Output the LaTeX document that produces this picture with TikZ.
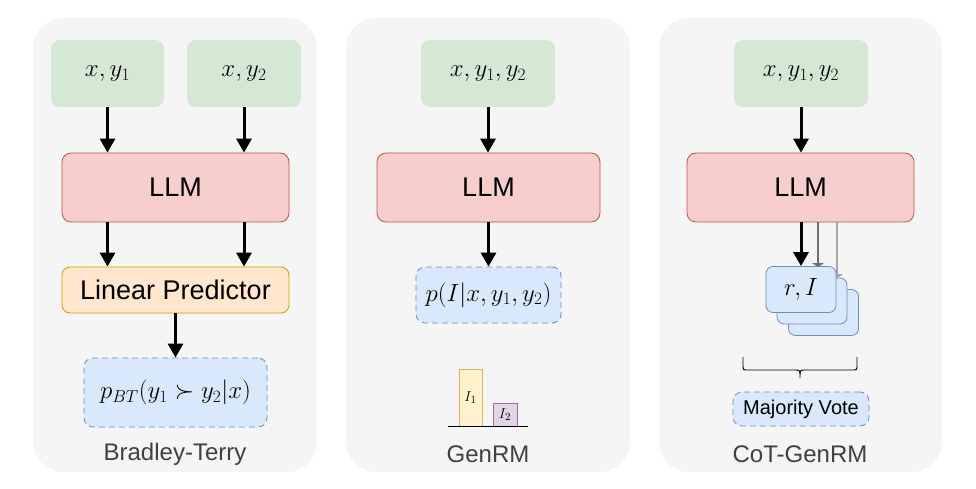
\documentclass[tikz,border=0pt]{standalone}
\usepackage[no-math]{fontspec}
\setmainfont{Liberation Sans}
\usetikzlibrary{arrows.meta}
\definecolor{panelgray}{HTML}{F5F5F5}
\definecolor{ingreen}{HTML}{D5E8D4}
\definecolor{llmfill}{HTML}{F8CECC}
\definecolor{llmdraw}{HTML}{B85450}
\definecolor{linfill}{HTML}{FFE6CC}
\definecolor{lindraw}{HTML}{D79B00}
\definecolor{bluefill}{HTML}{DAE8FC}
\definecolor{bluedraw}{HTML}{6C8EBF}
\definecolor{yelfill}{HTML}{FFF2CC}
\definecolor{yeldraw}{HTML}{D6B656}
\definecolor{purfill}{HTML}{E1D5E7}
\definecolor{purdraw}{HTML}{9673A6}
\definecolor{lblgray}{HTML}{404040}
\definecolor{darkarr}{HTML}{6E6E6E}
\definecolor{lightarr}{HTML}{A6A6A6}
\begin{document}
\begin{tikzpicture}[x=1pt,y=-1pt,
  panel/.style={fill=panelgray, draw=none, rounded corners=30pt},
  inbox/.style={fill=ingreen, draw=none, rounded corners=9pt, minimum width=#1, minimum height=67pt, inner sep=0pt, font=\fontsize{24}{28}\selectfont},
  llmbox/.style={fill=llmfill, draw=llmdraw, line width=0.8pt, rounded corners=9pt, minimum width=#1, minimum height=69pt, inner sep=0pt, font=\fontsize{27}{30}\selectfont},
  linbox/.style={fill=linfill, draw=lindraw, line width=0.8pt, rounded corners=8pt, minimum width=227pt, minimum height=46pt, inner sep=0pt, font=\fontsize{27}{30}\selectfont},
  outbox/.style={fill=bluefill, draw=bluedraw, line width=0.8pt, dash pattern=on 6pt off 4pt, rounded corners=9pt, inner sep=0pt, font=\fontsize{24}{28}\selectfont},
  card/.style={fill=bluefill, draw=bluedraw, line width=0.8pt, rounded corners=7pt, minimum width=70pt, minimum height=46pt, inner sep=0pt, font=\fontsize{24}{28}\selectfont},
  arr/.style={line width=3pt, -{Triangle[width=15pt,length=14pt]}},
  garr/.style={line width=2.6pt, -{Triangle[width=12pt,length=4pt]}},
  lbl/.style={text=lblgray, font=\fontsize{24}{28}\selectfont, inner sep=0pt},
  barstyle/.style={line width=0.8pt, inner sep=0pt, font=\fontsize{15}{18}\selectfont}
]
\useasboundingbox (0,0) rectangle (976,489);
% panels
\fill[panel] (33,18) rectangle (317,472);
\fill[panel] (346,18) rectangle (630,472);
\fill[panel] (659,18) rectangle (942,472);

% ---------- Bradley-Terry ----------
\node[inbox=113pt] (g1a) at (107.5,73.5) {$x, y_1$};
\node[inbox=114pt] (g1b) at (244,73.5) {$x, y_2$};
\node[llmbox=227pt] (llm1) at (175.5,187.5) {LLM};
\node[linbox] (lp1) at (175.5,290) {Linear Predictor};
\node[outbox, minimum width=183pt, minimum height=69pt] (out1) at (175.5,392.5) {$p_{BT}(y_1 \succ y_2 | x)$};
\node[lbl] (t1) at (175,454) {Bradley-Terry};
\draw[arr] (g1a.south) -- (g1a.south |- llm1.north);
\draw[arr] (g1b.south) -- (g1b.south |- llm1.north);
\draw[arr] (llm1.south -| g1a.south) -- (lp1.north -| g1a.south);
\draw[arr] (llm1.south -| g1b.south) -- (lp1.north -| g1b.south);
\draw[arr] (lp1.south) -- (out1.north);

% ---------- GenRM ----------
\node[inbox=134pt] (g2) at (488,73.5) {$x, y_1, y_2$};
\node[llmbox=223pt] (llm2) at (488.5,187.5) {LLM};
\node[outbox, minimum width=145pt, minimum height=56pt] (out2) at (488.5,295) {$p(I | x, y_1, y_2)$};
\node[lbl] (t2) at (488,454) {GenRM};
\draw[arr] (g2.south) -- (g2.south |- llm2.north);
\draw[arr] (llm2.south) -- (out2.north);
\node[barstyle, fill=yelfill, draw=yeldraw, minimum width=23pt, minimum height=57pt] (i1) at (470.5,397.5) {$I_1$};
\node[barstyle, fill=purfill, draw=purdraw, minimum width=24pt, minimum height=23pt] (i2) at (505,414.5) {$I_2$};
\draw[line width=1pt] (448,426) -- (528,426);

% ---------- CoT-GenRM ----------
\node[inbox=134pt] (g3) at (801,73.5) {$x, y_1, y_2$};
\node[llmbox=227pt] (llm3) at (800.5,187.5) {LLM};
\draw[arr] (g3.south) -- (g3.south |- llm3.north);
\coordinate (c1pos) at (801,289.5);
\draw[garr, lightarr] ([xshift=36pt]llm3.south -| c1pos) -- ([xshift=36pt]c1pos |- 0,278);
\draw[garr, darkarr] ([xshift=17pt]llm3.south -| c1pos) -- ([xshift=17pt]c1pos |- 0,267);
\node[card] (c3) at (823.5,312.5) {};
\node[card] (c2) at (812,301) {};
\node[card] (c1) at (c1pos) {$r, I$};
\draw[arr] (llm3.south -| c1.north) -- (c1.north);
\draw[line width=0.9pt] (743,357) -- (743,365) .. controls (743,370) .. (748,370) -- (795,370) .. controls (800,370) .. (800,378) .. controls (800,370) .. (805,370) -- (852,370) .. controls (857,370) .. (857,365) -- (857,357);
\node[outbox, minimum width=136pt, minimum height=34pt, font=\fontsize{20}{24}\selectfont] (mv) at (801,409) {Majority Vote};
\node[lbl] (t3) at (800,454) {CoT-GenRM};
\end{tikzpicture}
\end{document}
